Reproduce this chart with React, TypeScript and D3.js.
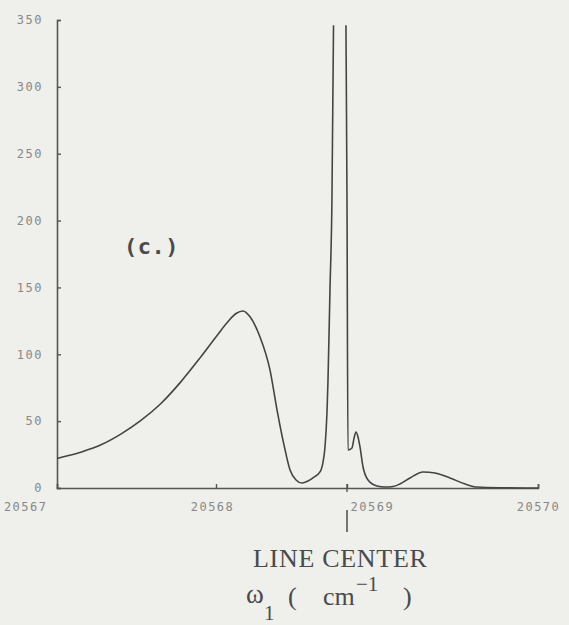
import React, { useEffect, useRef } from "react";
import * as d3 from "d3";

// Wavenumber (cm^-1) and intensity
const waveNumbers = [
  20567.0, 20567.012, 20567.155, 20567.28, 20567.404, 20567.528, 20567.652, 20567.776,
  20567.901, 20568.008, 20568.092, 20568.153, 20568.206, 20568.26, 20568.336, 20568.412,
  20568.466, 20568.519, 20568.565, 20568.611, 20568.656, 20568.702, 20568.748, 20568.794,
  20568.817, 20568.832, 20568.847, 20568.855, 20568.87, 20568.885, 20568.897, 20568.91,
  20568.945, 20568.98, 20568.992, 20569.0, 20569.005, 20569.026, 20569.037, 20569.047,
  20569.058, 20569.068, 20569.084, 20569.11, 20569.157, 20569.199, 20569.241, 20569.277,
  20569.33, 20569.398, 20569.461, 20569.539, 20569.618, 20569.681, 20569.801, 20570.0,
];
const intensity = [
  22, 22.4, 27, 32.5, 40.5, 50.5, 63, 79,
  97.5, 114, 124.5, 130.5, 132.4, 128, 112.9, 88.3,
  58.3, 32.2, 13.5, 6.0, 3.7, 5.2, 8.2, 12.0,
  19.4, 30.7, 56.1, 80.8, 148, 215, 346, 520,
  800, 520, 346, 215, 28.4, 29.9, 37.4, 41.9,
  38.0, 30.7, 15.7, 6.0, 1.5, 0.7, 1.1, 3.0,
  7.5, 12.0, 11.2, 7.5, 3.0, 0.7, 0.2, 0,
];
const xTicks = [20567, 20568, 20569, 20570];
const xTickLabels = ["20567", "20568", "20569", "20570"];
const yTicks = [0, 50, 100, 150, 200, 250, 300, 350];
const lineCenter = 20569;

export default function App() {
  const ref = useRef<SVGSVGElement>(null);

  useEffect(() => {
    const svg = d3.select(ref.current);
    svg.selectAll("*").remove();
    const W = 569, H = 625;
    // the scanned axis is not evenly spaced; use a piecewise-linear scale
    const x = d3.scaleLinear().domain(xTicks).range([57, 216, 347, 538]);
    const y = d3.scaleLinear().domain([0, 350]).range([488, 20]);

    svg.append("rect").attr("width", W).attr("height", H).attr("fill", "#efefec");

    const mono = "'DejaVu Sans Mono', monospace";
    const serif = "'Liberation Serif', 'DejaVu Serif', serif";

    // clip for the off-scale line
    svg.append("defs").append("clipPath").attr("id", "plotclip")
      .append("rect").attr("x", 57).attr("y", y(346)).attr("width", 490).attr("height", 488 - y(346) + 2);

    // y axis
    const yAxis = d3.axisLeft(y).tickValues(yTicks).tickSize(-4).tickPadding(14)
      .tickFormat((d) => String(d));
    const gy = svg.append("g").attr("transform", "translate(57,0)").call(yAxis);
    gy.select(".domain").attr("stroke", "#555").attr("stroke-width", 1.6);
    gy.selectAll(".tick line").attr("stroke", "#555").attr("stroke-width", 1.4);
    gy.selectAll(".tick text").attr("fill", "#888").attr("font-family", mono)
      .attr("font-size", 12).attr("letter-spacing", 1.5);

    // x axis
    const xAxis = d3.axisBottom(x).tickValues(xTicks).tickSize(-4).tickPadding(14)
      .tickFormat((_d, i) => xTickLabels[i]);
    const gx = svg.append("g").attr("transform", "translate(0,488)").call(xAxis);
    gx.select(".domain").attr("stroke", "#555").attr("stroke-width", 1.6);
    gx.selectAll(".tick line").attr("stroke", "#555").attr("stroke-width", 1.4);
    gx.selectAll(".tick text").attr("fill", "#888").attr("font-family", mono)
      .attr("font-size", 12).attr("letter-spacing", 1.5)
      .attr("text-anchor", (_d, i) => (i === 0 ? "end" : i === 2 ? "start" : "middle"))
      .attr("dx", (_d, i) => (i === 0 ? -10 : i === 1 ? -4 : i === 2 ? 3 : 0));

    // line-center marker
    svg.append("line").attr("x1", x(lineCenter)).attr("x2", x(lineCenter))
      .attr("y1", 510).attr("y2", 532).attr("stroke", "#555").attr("stroke-width", 1.6);
    svg.append("line").attr("x1", x(lineCenter)).attr("x2", x(lineCenter))
      .attr("y1", 484).attr("y2", 492).attr("stroke", "#555").attr("stroke-width", 1.4);

    // curve
    const pts = waveNumbers.map((w, i) => [w, intensity[i]] as [number, number]);
    const line = d3.line<[number, number]>().x((d) => x(d[0])).y((d) => y(d[1]))
      .curve(d3.curveMonotoneX);
    svg.append("path").attr("d", line(pts) || "").attr("fill", "none")
      .attr("stroke", "#444").attr("stroke-width", 1.6).attr("clip-path", "url(#plotclip)");

    // panel label
    svg.append("text").attr("x", 124).attr("y", 254).attr("font-family", mono)
      .attr("font-size", 22).attr("font-weight", "bold").attr("fill", "#4a4a4a")
      .attr("letter-spacing", 0.5).text("(c.)");

    // axis title
    const tcol = "#4a4a4a";
    svg.append("text").attr("x", 253).attr("y", 567).attr("font-family", serif)
      .attr("font-size", 26).attr("letter-spacing", 0.7).attr("fill", tcol).text("LINE CENTER");
    svg.append("text").attr("x", 246).attr("y", 603).attr("font-family", serif)
      .attr("font-size", 27).attr("fill", tcol).text("ω");
    svg.append("text").attr("x", 264).attr("y", 620).attr("font-family", serif)
      .attr("font-size", 21).attr("fill", tcol).text("1");
    svg.append("text").attr("x", 288).attr("y", 605).attr("font-family", serif)
      .attr("font-size", 26).attr("fill", tcol).text("(");
    svg.append("text").attr("x", 323).attr("y", 605).attr("font-family", serif)
      .attr("font-size", 26).attr("fill", tcol).text("cm");
    svg.append("text").attr("x", 356).attr("y", 591).attr("font-family", serif)
      .attr("font-size", 21).attr("fill", tcol).text("−1");
    svg.append("text").attr("x", 403).attr("y", 605).attr("font-family", serif)
      .attr("font-size", 26).attr("fill", tcol).text(")");
  }, []);

  return <svg ref={ref} width={569} height={625} style={{ display: "block", position: "absolute", left: 0, top: 0 }} />;
}
